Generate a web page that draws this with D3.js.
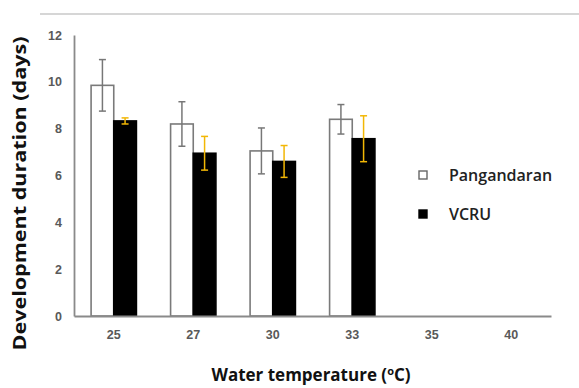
<!DOCTYPE html>
<html>
<head>
<meta charset="utf-8">
<script src="https://cdn.jsdelivr.net/npm/d3@7"></script>
<style>
  body { margin: 0; background: #fff; }
  svg { display: block; font-family: 'Open Sans', sans-serif; }
</style>
</head>
<body>
<div id="chart"></div>
<script>
// temperatures and series
const temperatures = ['25', '27', '30', '33', '35', '40'];
const seriesNames = ['Pangandaran', 'VCRU'];
const pangandaranMean = [9.85, 8.2, 7.05, 8.4, null, null];
const pangandaranErr = [1.1, 0.95, 0.98, 0.63, null, null];
const vcruMean = [8.33, 6.95, 6.6, 7.57, null, null];
const vcruErr = [0.13, 0.72, 0.68, 0.98, null, null];
const yTicks = [0, 2, 4, 6, 8, 10, 12];

const width = 579, height = 388;
const margin = { top: 35, right: 28, bottom: 72, left: 74 };

const svg = d3.select('#chart').append('svg')
    .attr('width', width)
    .attr('height', height);

// thin rule across the top
svg.append('line')
    .attr('x1', 40).attr('x2', width)
    .attr('y1', 14).attr('y2', 14)
    .attr('stroke', '#c8c8c8').attr('stroke-width', 1.5);

const x0 = d3.scaleBand()
    .domain(temperatures)
    .range([margin.left, width - margin.right])
    .paddingInner(0.43)
    .paddingOuter(0.215);

const x1 = d3.scaleBand()
    .domain(seriesNames)
    .range([0, x0.bandwidth()]);

const y = d3.scaleLinear()
    .domain([0, 12])
    .range([height - margin.bottom, margin.top]);

const rows = [];
temperatures.forEach((t, i) => {
    rows.push({ t, s: 'Pangandaran', v: pangandaranMean[i], e: pangandaranErr[i] });
    rows.push({ t, s: 'VCRU', v: vcruMean[i], e: vcruErr[i] });
});
const data = rows.filter(d => d.v != null);

// bars
svg.append('g').selectAll('rect')
    .data(data)
    .join('rect')
    .attr('x', d => x0(d.t) + x1(d.s))
    .attr('y', d => y(d.v))
    .attr('width', x1.bandwidth())
    .attr('height', d => y(0) - y(d.v))
    .attr('fill', d => d.s === 'VCRU' ? '#000' : '#fff')
    .attr('stroke', d => d.s === 'VCRU' ? '#000' : '#7a7a7a')
    .attr('stroke-width', 1.6);

// error bars
const err = svg.append('g').selectAll('g')
    .data(data)
    .join('g')
    .attr('stroke', d => d.s === 'VCRU' ? '#f2b705' : '#777')
    .attr('stroke-width', 1.5);
const cx = d => x0(d.t) + x1(d.s) + x1.bandwidth() / 2;
err.append('line')
    .attr('x1', cx).attr('x2', cx)
    .attr('y1', d => y(d.v + d.e)).attr('y2', d => y(d.v - d.e));
err.append('line')
    .attr('x1', d => cx(d) - 3.5).attr('x2', d => cx(d) + 3.5)
    .attr('y1', d => y(d.v + d.e)).attr('y2', d => y(d.v + d.e));
err.append('line')
    .attr('x1', d => cx(d) - 3.5).attr('x2', d => cx(d) + 3.5)
    .attr('y1', d => y(d.v - d.e)).attr('y2', d => y(d.v - d.e));

// axes
const yAxis = svg.append('g')
    .attr('transform', `translate(${margin.left},0)`)
    .call(d3.axisLeft(y).tickValues(yTicks).tickSize(0).tickPadding(12));
yAxis.select('.domain').attr('stroke', '#8a8a8a').attr('stroke-width', 1.8);

const xAxis = svg.append('g')
    .attr('transform', `translate(0,${y(0)})`)
    .call(d3.axisBottom(x0).tickSize(0).tickPadding(14));
xAxis.select('.domain').attr('stroke', '#8a8a8a').attr('stroke-width', 1.8);

svg.selectAll('.tick text')
    .attr('fill', '#595959')
    .style('font-size', '12.5px')
    .style('font-weight', 600);

// axis titles
svg.append('text')
    .attr('transform', `translate(26,${(margin.top + y(0)) / 2 + 18}) rotate(-90)`)
    .attr('text-anchor', 'middle')
    .attr('textLength', 314)
    .attr('lengthAdjust', 'spacingAndGlyphs')
    .style('font-size', '17px')
    .style('font-weight', 700)
    .attr('fill', '#111')
    .text('Development duration (days)');

const xt = svg.append('text')
    .attr('x', 311)
    .attr('y', 381)
    .attr('text-anchor', 'middle')
    .style('font-size', '17px')
    .style('font-weight', 700)
    .attr('fill', '#111');
xt.append('tspan').text('Water temperature (');
xt.append('tspan').text('o').attr('dy', -6).style('font-size', '11px');
xt.append('tspan').text('C)').attr('dy', 6);

// legend
const legend = svg.append('g').selectAll('g')
    .data(seriesNames)
    .join('g')
    .attr('transform', (d, i) => `translate(419,${171 + i * 39})`);
legend.append('rect')
    .attr('width', 8).attr('height', 8)
    .attr('fill', d => d === 'VCRU' ? '#000' : '#fff')
    .attr('stroke', d => d === 'VCRU' ? '#000' : '#666')
    .attr('stroke-width', 1.4);
legend.append('text')
    .attr('x', 30).attr('y', 9.5)
    .style('font-size', '16px')
    .style('font-weight', 600)
    .attr('fill', '#222')
    .text(d => d);
</script>
</body>
</html>
